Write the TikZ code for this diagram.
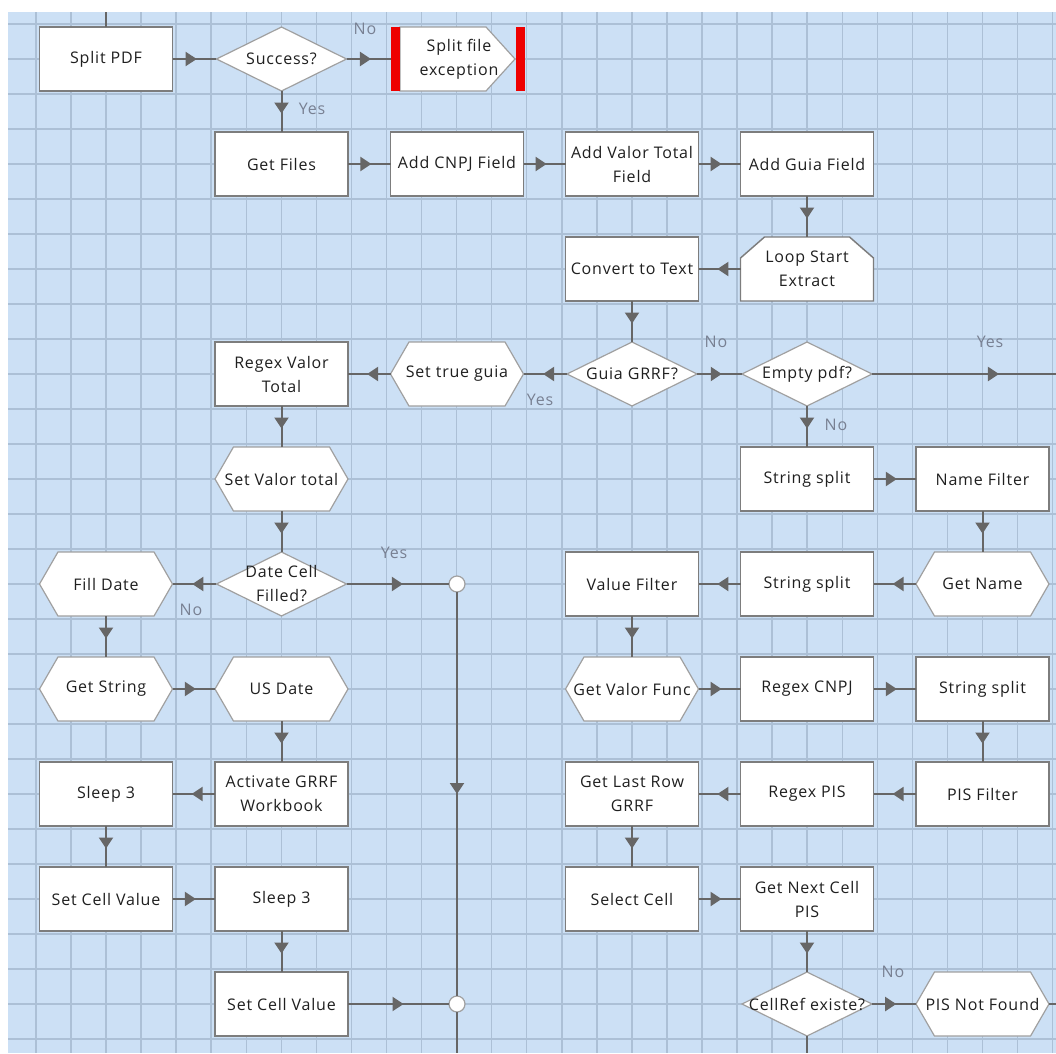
\documentclass[tikz,border=0pt]{standalone}
\usepackage{fontspec}
\setmainfont{Open Sans}[LetterSpace=5]
\usetikzlibrary{shapes.geometric,shapes.symbols,arrows.meta,decorations.markings}

\definecolor{canvas}{RGB}{204,224,245}
\definecolor{gridln}{RGB}{172,192,214}
\definecolor{edgeln}{RGB}{102,102,102}
\definecolor{boxln}{RGB}{125,125,125}
\definecolor{shapeln}{RGB}{160,160,160}
\definecolor{lbl}{RGB}{120,128,146}
\definecolor{excred}{RGB}{238,0,0}

% a shape node with its caption laid over it
\newcommand\fnode[4]{%
  \node[#1] (#2) at (#3) {};
  \node[txt] (#2-t) at (#2) {#4};}

\begin{document}
\begin{tikzpicture}[x=0.75pt,y=-0.75pt,
  every node/.style={inner sep=0pt,outer sep=0pt},
  txt/.style={font=\fontsize{12}{18}\selectfont,text=black!88,align=center},
  lbltxt/.style={font=\fontsize{12}{18}\selectfont,text=lbl},
  actbox/.style={rectangle,draw=boxln,line width=1.1pt,fill=white,
    minimum width=99.75pt,minimum height=48pt},
  decbox/.style={diamond,draw=shapeln,line width=0.9pt,fill=white,
    minimum width=97.5pt,minimum height=48pt},
  calcbox/.style={signal,signal to=east and west,signal pointer angle=120,
    draw=shapeln,line width=0.9pt,fill=white,
    minimum width=99.75pt,minimum height=48pt},
  frame/.style={rectangle,minimum width=#1,minimum height=48pt},
  excbar/.style={rectangle,fill=excred,minimum width=6.75pt,minimum height=48pt},
  junction/.style={circle,draw=shapeln,line width=0.9pt,fill=white,minimum size=12pt},
  wire/.style={draw=edgeln,line width=1.5pt},
  flow/.style={wire,postaction={decorate},
    decoration={markings,mark=at position #1 with
      {\arrow[edgeln]{Triangle[length=8.25pt,width=10.5pt]}}}},
  flow/.default=0.55,
  gridline/.style={draw=gridln,line width=1.1pt}
]
\useasboundingbox (0,0) rectangle (1056,1053);
\fill[white] (0,0) rectangle (1056,1053);
\fill[canvas] (8,12) rectangle (1056,1053);

% canvas grid
\foreach \k in {0,...,29} {
  \draw[gridline] (35.9+35.06*\k,12) -- (35.9+35.06*\k,1053);
  \draw[gridline] (8,24+35*\k) -- (1056,24+35*\k);
}

% row 1
\fnode{actbox}{splitpdf}{106,59}{Split PDF}
\fnode{decbox}{success}{281.5,59}{Success?}
% exception block: pentagon pointing east between two red bars
\node[frame=86.25pt] (exc) at (457.5,59) {};
\filldraw[draw=shapeln,line width=0.9pt,fill=white]
  (exc.north west) -- ([xshift=-21.75pt]exc.north east) -- (exc.east)
  -- ([xshift=-21.75pt]exc.south east) -- (exc.south west) -- cycle;
\node[txt] (exc-t) at (459,59) {Split file\\exception};
\node[excbar] (excL) at (395.5,59) {};
\node[excbar] (excR) at (520.5,59) {};
% row 2
\fnode{actbox}{getfiles}{281.5,164}{Get Files}
\fnode{actbox}{addcnpj}{457,164}{Add CNPJ Field}
\fnode{actbox}{addvalor}{632,164}{Add Valor Total\\Field}
\fnode{actbox}{addguia}{807,164}{Add Guia Field}
% row 3
\fnode{actbox}{convtext}{632,269}{Convert to Text}
% loop start: box with both upper corners cut off
\node[frame=99.75pt] (loopstart) at (807,269) {};
\filldraw[draw=boxln,line width=1.1pt,fill=white]
  ([xshift=18pt]loopstart.north west) -- ([xshift=-18pt]loopstart.north east)
  -- ([yshift=-15.75pt]loopstart.north east) -- (loopstart.south east)
  -- (loopstart.south west) -- ([yshift=-15.75pt]loopstart.north west) -- cycle;
\node[txt] (loopstart-t) at (loopstart) {Loop Start\\Extract};
% row 4
\fnode{actbox}{regexvalor}{281.5,374}{Regex Valor\\Total}
\fnode{calcbox}{settrue}{457,374}{Set true guia}
\fnode{decbox}{guia}{632,374}{Guia GRRF?}
\fnode{decbox}{emptypdf}{807,374}{Empty pdf?}
% row 5
\fnode{calcbox}{setvalor}{281.5,479}{Set Valor total}
\fnode{actbox}{ssplitA}{807,479}{String split}
\fnode{actbox}{namefilter}{982.5,479}{Name Filter}
% row 6
\fnode{calcbox}{filldate}{106,584}{Fill Date}
\fnode{decbox}{datecell}{281.5,584}{Date Cell\\Filled?}
\node[junction] (jA) at (457,584) {};
\fnode{actbox}{valuefilter}{632,584}{Value Filter}
\fnode{actbox}{ssplitB}{807,584}{String split}
\fnode{calcbox}{getname}{982.5,584}{Get Name}
% row 7
\fnode{calcbox}{getstring}{106,689}{Get String}
\fnode{calcbox}{usdate}{281.5,689}{US Date}
\fnode{calcbox}{getvalor}{632,689}{Get Valor Func}
\fnode{actbox}{regexcnpj}{807,689}{Regex CNPJ}
\fnode{actbox}{ssplitC}{982.5,689}{String split}
% row 8
\fnode{actbox}{sleepA}{106,794}{Sleep 3}
\fnode{actbox}{activate}{281.5,794}{Activate GRRF\\Workbook}
\fnode{actbox}{lastrow}{632,794}{Get Last Row\\GRRF}
\fnode{actbox}{regexpis}{807,794}{Regex PIS}
\fnode{actbox}{pisfilter}{982.5,794}{PIS Filter}
% row 9
\fnode{actbox}{setcellA}{106,899}{Set Cell Value}
\fnode{actbox}{sleepB}{281.5,899}{Sleep 3}
\fnode{actbox}{selectcell}{632,899}{Select Cell}
\fnode{actbox}{nextcell}{807,899}{Get Next Cell\\PIS}
% row 10
\fnode{actbox}{setcellB}{281.5,1004}{Set Cell Value}
\node[junction] (jB) at (457,1004) {};
\fnode{decbox}{cellref}{807,1004}{CellRef existe?}
\fnode{calcbox}{pisnf}{982.5,1004}{PIS Not Found}

% loose ends at the canvas border
\coordinate (topin) at (106,12);
\coordinate (emptyout) at (1056,374);
\coordinate (jBout) at (457,1053);
\coordinate (cellrefout) at (807,1053);
\coordinate (pisout) at (1056,1004);

% connectors
\draw[wire] (topin) -- (splitpdf);
\draw[flow] (splitpdf) -- (success);
\draw[flow] (success) -- (excL);
\draw[flow] (success) -- (getfiles);
\draw[flow] (getfiles) -- (addcnpj);
\draw[flow] (addcnpj) -- (addvalor);
\draw[flow] (addvalor) -- (addguia);
\draw[flow] (addguia) -- (loopstart);
\draw[flow] (loopstart) -- (convtext);
\draw[flow] (convtext) -- (guia);
\draw[flow] (guia) -- (settrue);
\draw[flow] (guia) -- (emptypdf);
\draw[flow=0.69] (emptypdf) -- (emptyout);
\draw[flow] (emptypdf) -- (ssplitA);
\draw[flow] (settrue) -- (regexvalor);
\draw[flow] (regexvalor) -- (setvalor);
\draw[flow] (setvalor) -- (datecell);
\draw[flow] (datecell) -- (filldate);
\draw[flow] (datecell) -- (jA);
\draw[flow=0.5] (jA) -- (jB);
\draw[wire] (jB) -- (jBout);
\draw[flow] (filldate) -- (getstring);
\draw[flow] (getstring) -- (usdate);
\draw[flow] (usdate) -- (activate);
\draw[flow] (activate) -- (sleepA);
\draw[flow] (sleepA) -- (setcellA);
\draw[flow] (setcellA) -- (sleepB);
\draw[flow] (sleepB) -- (setcellB);
\draw[flow] (setcellB) -- (jB);
\draw[flow] (ssplitA) -- (namefilter);
\draw[flow] (namefilter) -- (getname);
\draw[flow] (getname) -- (ssplitB);
\draw[flow] (ssplitB) -- (valuefilter);
\draw[flow] (valuefilter) -- (getvalor);
\draw[flow] (getvalor) -- (regexcnpj);
\draw[flow] (regexcnpj) -- (ssplitC);
\draw[flow] (ssplitC) -- (pisfilter);
\draw[flow] (pisfilter) -- (regexpis);
\draw[flow] (regexpis) -- (lastrow);
\draw[flow] (lastrow) -- (selectcell);
\draw[flow] (selectcell) -- (nextcell);
\draw[flow] (nextcell) -- (cellref);
\draw[flow] (cellref) -- (pisnf);
\draw[wire] (cellref) -- (cellrefout);
\draw[wire] (pisnf) -- (pisout);

% branch labels
\node[lbltxt] (l-succ-no) at (365,29) {No};
\node[lbltxt] (l-succ-yes) at (312,109) {Yes};
\node[lbltxt] (l-guia-no) at (716,342) {No};
\node[lbltxt] (l-guia-yes) at (540,400) {Yes};
\node[lbltxt] (l-empty-yes) at (990,342) {Yes};
\node[lbltxt] (l-empty-no) at (836,425) {No};
\node[lbltxt] (l-date-yes) at (394,553) {Yes};
\node[lbltxt] (l-date-no) at (191,610) {No};
\node[lbltxt] (l-cell-no) at (893,972) {No};
\end{tikzpicture}
\end{document}
